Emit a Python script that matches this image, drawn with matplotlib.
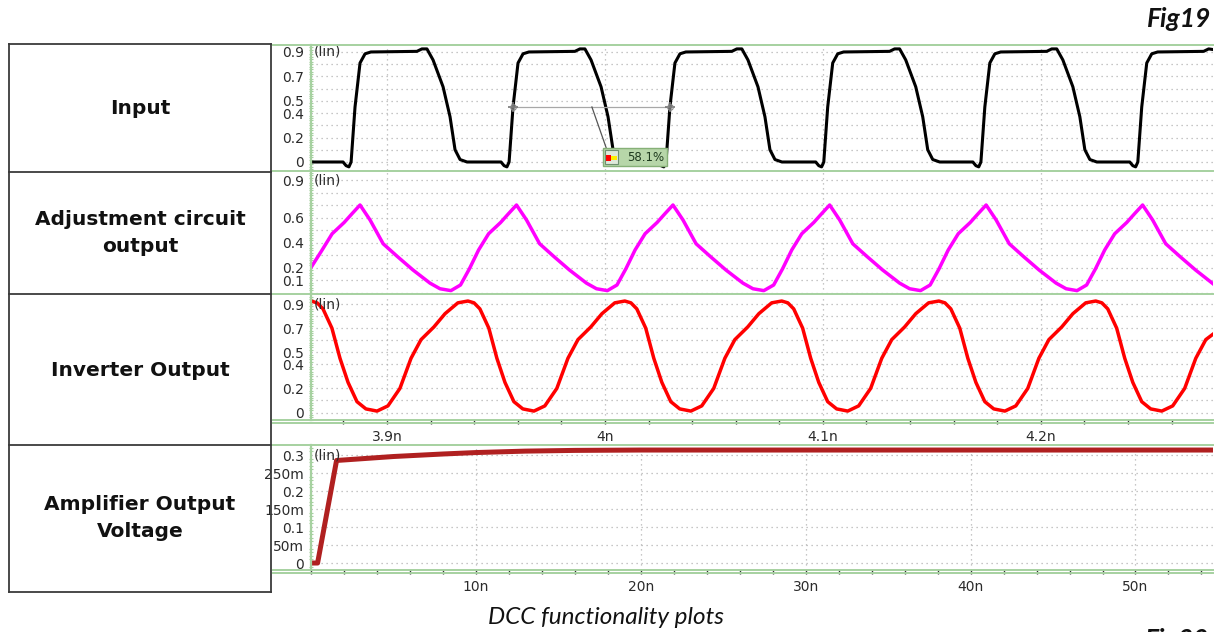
import matplotlib
matplotlib.use("Agg")
import matplotlib.pyplot as plt
from matplotlib.lines import Line2D
from matplotlib.patches import Rectangle
from matplotlib.ticker import MultipleLocator

# ---------------------------------------------------------------
# data (time in ns, value in V)
# ---------------------------------------------------------------
input_t = [3.8651, 3.8798, 3.8812, 3.8825, 3.8835, 3.8853, 3.8876, 3.8899, 3.8926, 3.9137, 3.9160, 3.9183,
           3.9211, 3.9257, 3.9289, 3.9312, 3.9335, 3.9367,
           3.9523, 3.9537, 3.9550, 3.9560, 3.9578, 3.9601, 3.9624, 3.9651, 3.9862, 3.9885, 3.9908,
           3.9936, 3.9982, 4.0014, 4.0037, 4.0060, 4.0092,
           4.0243, 4.0257, 4.0270, 4.0280, 4.0298, 4.0321, 4.0344, 4.0371, 4.0582, 4.0605, 4.0628,
           4.0656, 4.0702, 4.0734, 4.0757, 4.0780, 4.0812,
           4.0967, 4.0981, 4.0994, 4.1004, 4.1022, 4.1045, 4.1068, 4.1095, 4.1306, 4.1329, 4.1352,
           4.1380, 4.1426, 4.1458, 4.1481, 4.1504, 4.1536,
           4.1688, 4.1702, 4.1715, 4.1725, 4.1743, 4.1766, 4.1789, 4.1816, 4.2027, 4.2050, 4.2073,
           4.2101, 4.2147, 4.2179, 4.2202, 4.2225, 4.2257,
           4.2408, 4.2422, 4.2435, 4.2445, 4.2463, 4.2486, 4.2509, 4.2536, 4.2747, 4.2770, 4.2790]
input_v = [0.0, 0.0, -0.03, -0.04, 0.0, 0.45, 0.81, 0.885, 0.90, 0.905, 0.925, 0.925,
           0.835, 0.615, 0.37, 0.10, 0.02, 0.0,
           0.0, -0.03, -0.04, 0.0, 0.45, 0.81, 0.885, 0.90, 0.905, 0.925, 0.925,
           0.835, 0.615, 0.37, 0.10, 0.02, 0.0,
           0.0, -0.03, -0.04, 0.0, 0.45, 0.81, 0.885, 0.90, 0.905, 0.925, 0.925,
           0.835, 0.615, 0.37, 0.10, 0.02, 0.0,
           0.0, -0.03, -0.04, 0.0, 0.45, 0.81, 0.885, 0.90, 0.905, 0.925, 0.925,
           0.835, 0.615, 0.37, 0.10, 0.02, 0.0,
           0.0, -0.03, -0.04, 0.0, 0.45, 0.81, 0.885, 0.90, 0.905, 0.925, 0.925,
           0.835, 0.615, 0.37, 0.10, 0.02, 0.0,
           0.0, -0.03, -0.04, 0.0, 0.45, 0.81, 0.885, 0.90, 0.905, 0.925, 0.92]

adj_t = [3.8651, 3.8702, 3.8748, 3.8803, 3.8839, 3.8876, 3.8922, 3.8982, 3.9046, 3.9119, 3.9197, 3.9243, 3.9293,
         3.9337, 3.9378, 3.9420, 3.9466, 3.9521, 3.9557, 3.9594, 3.9640, 3.9700, 3.9764, 3.9837, 3.9915, 3.9961, 4.0011,
         4.0055, 4.0096, 4.0138, 4.0184, 4.0239, 4.0275, 4.0312, 4.0358, 4.0418, 4.0482, 4.0555, 4.0633, 4.0679, 4.0729,
         4.0774, 4.0815, 4.0857, 4.0903, 4.0958, 4.0994, 4.1031, 4.1077, 4.1137, 4.1201, 4.1274, 4.1352, 4.1398, 4.1448,
         4.1492, 4.1533, 4.1575, 4.1621, 4.1676, 4.1712, 4.1749, 4.1795, 4.1855, 4.1919, 4.1992, 4.2070, 4.2116, 4.2166,
         4.2210, 4.2251, 4.2293, 4.2339, 4.2394, 4.2430, 4.2467, 4.2513, 4.2573, 4.2637, 4.2710, 4.2790]
adj_v = [0.20, 0.34, 0.47, 0.56, 0.63, 0.70, 0.58, 0.39, 0.29, 0.18, 0.075, 0.03, 0.015,
         0.06, 0.19, 0.34, 0.47, 0.56, 0.63, 0.70, 0.58, 0.39, 0.29, 0.18, 0.075, 0.03, 0.015,
         0.06, 0.19, 0.34, 0.47, 0.56, 0.63, 0.70, 0.58, 0.39, 0.29, 0.18, 0.075, 0.03, 0.015,
         0.06, 0.19, 0.34, 0.47, 0.56, 0.63, 0.70, 0.58, 0.39, 0.29, 0.18, 0.075, 0.03, 0.015,
         0.06, 0.19, 0.34, 0.47, 0.56, 0.63, 0.70, 0.58, 0.39, 0.29, 0.18, 0.075, 0.03, 0.015,
         0.06, 0.19, 0.34, 0.47, 0.56, 0.63, 0.70, 0.58, 0.39, 0.29, 0.18, 0.07]

inv_t = [3.8651, 3.8679, 3.8706, 3.8747, 3.8784, 3.8821, 3.8862, 3.8903, 3.8954, 3.9004, 3.9059, 3.9110,
         3.9156, 3.9215, 3.9266, 3.9325, 3.9371,
         3.9399, 3.9426, 3.9467, 3.9504, 3.9541, 3.9582, 3.9623, 3.9674, 3.9724, 3.9779, 3.9830,
         3.9876, 3.9935, 3.9986, 4.0045, 4.0091,
         4.0119, 4.0146, 4.0187, 4.0224, 4.0261, 4.0302, 4.0343, 4.0394, 4.0444, 4.0499, 4.0550,
         4.0596, 4.0655, 4.0706, 4.0765, 4.0811,
         4.0839, 4.0866, 4.0907, 4.0944, 4.0981, 4.1022, 4.1063, 4.1114, 4.1164, 4.1219, 4.1270,
         4.1316, 4.1375, 4.1426, 4.1485, 4.1532,
         4.1560, 4.1587, 4.1628, 4.1665, 4.1702, 4.1743, 4.1784, 4.1835, 4.1885, 4.1940, 4.1991,
         4.2037, 4.2096, 4.2147, 4.2206, 4.2252,
         4.2280, 4.2307, 4.2348, 4.2385, 4.2422, 4.2463, 4.2504, 4.2555, 4.2605, 4.2660, 4.2711,
         4.2757, 4.2790]
inv_v = [0.925, 0.91, 0.86, 0.70, 0.45, 0.25, 0.09, 0.03, 0.012, 0.055, 0.20, 0.45,
         0.605, 0.71, 0.82, 0.91, 0.925,
         0.91, 0.86, 0.70, 0.45, 0.25, 0.09, 0.03, 0.012, 0.055, 0.20, 0.45,
         0.605, 0.71, 0.82, 0.91, 0.925,
         0.91, 0.86, 0.70, 0.45, 0.25, 0.09, 0.03, 0.012, 0.055, 0.20, 0.45,
         0.605, 0.71, 0.82, 0.91, 0.925,
         0.91, 0.86, 0.70, 0.45, 0.25, 0.09, 0.03, 0.012, 0.055, 0.20, 0.45,
         0.605, 0.71, 0.82, 0.91, 0.925,
         0.91, 0.86, 0.70, 0.45, 0.25, 0.09, 0.03, 0.012, 0.055, 0.20, 0.45,
         0.605, 0.71, 0.82, 0.91, 0.925,
         0.91, 0.86, 0.70, 0.45, 0.25, 0.09, 0.03, 0.012, 0.055, 0.20, 0.45,
         0.605, 0.65]

amp_t = [0.0, 0.4, 1.55, 2.5, 5.0, 8.0, 10.0, 13.0, 16.0, 20.0, 30.0, 40.0, 50.0, 54.7]
amp_v = [0.0, 0.0, 0.285, 0.288, 0.296, 0.303, 0.307, 0.311, 0.313, 0.314, 0.314, 0.314, 0.314, 0.314]

# duty-cycle cursor on the input trace
cursor_t = [3.9578, 4.0298]
cursor_level = 0.45
duty_text = "58.1%"

row_labels = ["Input", "Adjustment circuit\noutput", "Inverter Output", "Amplifier Output\nVoltage"]

ns_ticks = [3.9, 4.0, 4.1, 4.2]
ns_labels = ["3.9n", "4n", "4.1n", "4.2n"]
long_ticks = [10, 20, 30, 40, 50]
long_labels = ["10n", "20n", "30n", "40n", "50n"]

in_yt = [0.9, 0.7, 0.5, 0.4, 0.2, 0.0]
in_yl = ["0.9", "0.7", "0.5", "0.4", "0.2", "0"]
adj_yt = [0.9, 0.6, 0.4, 0.2, 0.1]
adj_yl = ["0.9", "0.6", "0.4", "0.2", "0.1"]
inv_yt = [0.9, 0.7, 0.5, 0.4, 0.2, 0.0]
inv_yl = ["0.9", "0.7", "0.5", "0.4", "0.2", "0"]
amp_yt = [0.3, 0.25, 0.2, 0.15, 0.1, 0.05, 0.0]
amp_yl = ["0.3", "250m", "0.2", "150m", "0.1", "50m", "0"]

# ---------------------------------------------------------------
W, H = 1228, 632
GREEN = "#a6d1a0"
GRID = "#b4b4b4"
TXT = "#2b2b2b"
DOT = (0, (1, 3))
TICK_FS = 10

fig = plt.figure(figsize=(W / 100, H / 100), dpi=100)
fig.patch.set_facecolor("white")


def fx(x):
    return x / W


def fy(y):
    return 1 - y / H


def px_axes(x0, y0, x1, y1):
    return fig.add_axes([fx(x0), fy(y1), (x1 - x0) / W, (y1 - y0) / H])


def style(ax, xlim, ylim, yt, yl, ystep, xgrid):
    ax.set_xlim(*xlim)
    ax.set_ylim(*ylim)
    ax.set_facecolor("none")
    for s in ["top", "right", "bottom"]:
        ax.spines[s].set_visible(False)
    ax.spines["left"].set_color(GREEN)
    ax.spines["left"].set_linewidth(1.6)
    ax.set_yticks(yt, yl)
    ax.tick_params(axis="y", which="major", length=0, pad=5, labelsize=TICK_FS, labelcolor=TXT)
    ax.yaxis.set_minor_locator(MultipleLocator(ystep / 5))
    ax.tick_params(axis="y", which="minor", length=3, width=0.8, color=GREEN, direction="inout")
    g = ylim[0] - (ylim[0] % ystep)
    while g <= ylim[1]:
        if g >= ylim[0] - 1e-9:
            ax.axhline(g, color=GRID, lw=0.9, ls=DOT, zorder=0)
        g += ystep
    for xg in xgrid:
        ax.axvline(xg, color=GRID, lw=0.9, ls=DOT, zorder=0)
    ax.set_xticks([])
    ax.text(0.003, yt[0], "(lin)", transform=ax.get_yaxis_transform(), ha="left", va="center",
            fontsize=TICK_FS, color=TXT)


xl_short = (3.8651, 4.2790)
xl_long = (0.0, 54.7)

ax1 = px_axes(311, 45, 1213, 170)
style(ax1, xl_short, (-0.0655, 0.957), in_yt, in_yl, 0.1, ns_ticks)
ax1.plot(input_t, input_v, color="black", lw=2.2, solid_joinstyle="round")

ax2 = px_axes(311, 171, 1213, 294)
style(ax2, xl_short, (-0.012, 0.972), adj_yt, adj_yl, 0.1, ns_ticks)
ax2.plot(adj_t, adj_v, color="#ff00ff", lw=2.5, solid_joinstyle="round")

ax3 = px_axes(311, 295, 1213, 420)
style(ax3, xl_short, (-0.062, 0.975), inv_yt, inv_yl, 0.1, ns_ticks)
ax3.plot(inv_t, inv_v, color="#ff0000", lw=2.5, solid_joinstyle="round")
ax3.set_xticks(ns_ticks, ns_labels)
ax3.xaxis.set_minor_locator(MultipleLocator(0.02))
ax3.tick_params(axis="x", which="both", direction="out", length=3, width=1, color="#333333",
                labelsize=TICK_FS, labelcolor=TXT, pad=4)

ax4 = px_axes(311, 445, 1213, 570)
style(ax4, xl_long, (-0.0194, 0.328), amp_yt, amp_yl, 0.05, long_ticks)
ax4.plot(amp_t, amp_v, color="#b02020", lw=3.6, solid_joinstyle="round")
ax4.set_xticks(long_ticks, long_labels)
ax4.xaxis.set_minor_locator(MultipleLocator(2))
ax4.tick_params(axis="x", which="both", direction="out", length=3, width=1, color="#333333",
                labelsize=TICK_FS, labelcolor=TXT, pad=4)

# cursor measurement on input
ax1.plot(cursor_t, [cursor_level, cursor_level], color="#a8a8a8", lw=0.9, zorder=3)
ax1.plot(cursor_t, [cursor_level, cursor_level], ls="none", marker="+", ms=7, mew=1.2, color="#777777", zorder=4)
ax1.plot(cursor_t, [cursor_level, cursor_level], ls="none", marker="o", ms=4, mfc="none", mew=0.8,
         color="#888888", zorder=4)
ax1.plot([3.9940, 4.0009], [0.45, 0.098], color="#555555", lw=0.9, zorder=3)
ax1.add_patch(Rectangle((3.9990, -0.033), 0.0294, 0.148, fc="#b7d6a9", ec="#86b077", lw=1,
                        zorder=5, clip_on=False))
ax1.add_patch(Rectangle((3.9998, -0.020), 0.0062, 0.122, fc="#dfe9da", ec="#6f8f6f", lw=0.8,
                        zorder=6, clip_on=False))
ax1.add_patch(Rectangle((4.0005, 0.005), 0.0022, 0.050, fc="#ff0000", ec="none", zorder=7, clip_on=False))
ax1.add_patch(Rectangle((4.0027, 0.015), 0.0027, 0.030, fc="#ffee00", ec="none", zorder=7, clip_on=False))
ax1.text(4.0185, 0.037, duty_text, ha="center", va="center", fontsize=8.5, color="#1e3a1e", zorder=8)

# green frame lines of the viewer
for yy in [45, 170.5, 294.5, 419.5, 422.5, 444.5, 569.5, 572.5]:
    fig.add_artist(Line2D([fx(273), fx(1213)], [fy(yy), fy(yy)], color=GREEN, lw=1.4))

# label table on the left
TBL = "#3a3a3a"
x_l, x_r = 8.5, 271
rows = [44, 172, 294.5, 445, 592]
for yy in rows:
    fig.add_artist(Line2D([fx(x_l), fx(x_r)], [fy(yy), fy(yy)], color=TBL, lw=1.3))
for xx in [x_l, x_r]:
    fig.add_artist(Line2D([fx(xx), fx(xx)], [fy(rows[0]), fy(rows[-1])], color=TBL, lw=1.3))
label_y = [108, 233, 370, 518]
for lab, yy in zip(row_labels, label_y):
    fig.text(fx(140), fy(yy), lab, ha="center", va="center", fontsize=14.5, fontweight="bold",
             family="DejaVu Sans", linespacing=1.5, color="#111111")

fig.text(fx(1211), fy(27), "Fig19", ha="right", va="baseline", fontsize=19, fontweight="bold",
         style="italic", family="Lato", color="#111111")
fig.text(fx(1145), fy(628), "Fig20", ha="left", va="top", fontsize=19, fontweight="bold",
         style="italic", family="Lato", color="#111111")
fig.text(fx(606), fy(617), "DCC functionality plots", ha="center", va="center", fontsize=17.5,
         style="italic", family="Lato", color="#111111")

fig.savefig("out.png", dpi=100, facecolor="white")
